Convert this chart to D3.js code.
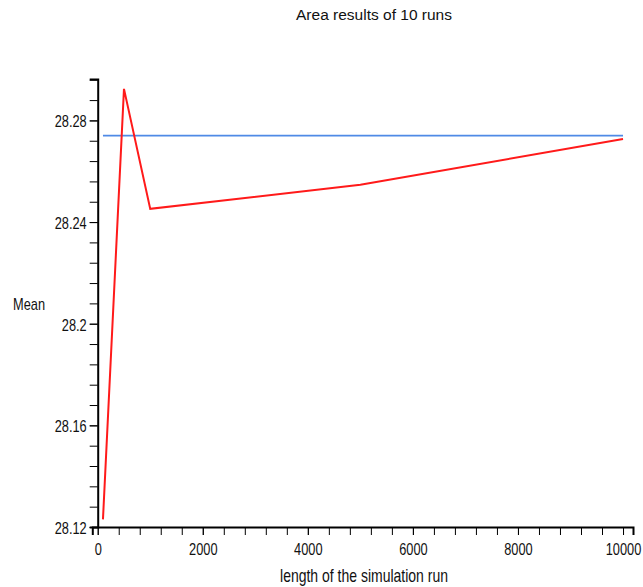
<!DOCTYPE html>
<html>
<head>
<meta charset="utf-8">
<script src="https://cdn.jsdelivr.net/npm/d3@7"></script>
<style>
  body { margin: 0; background: #fff; }
  text { font-family: "Liberation Sans", Arial, sans-serif; fill: #111; }
  .axis text { font-size: 16px; }
  .axis path, .axis line { stroke: #000; }
</style>
</head>
<body>
<div id="chart"></div>
<script>
// Chart data
const runLengths = [100, 500, 1000, 5000, 10000];
const meanArea = [28.123, 28.2924, 28.2452, 28.2547, 28.2727];
const refRange = [100, 10000];
const refValue = 28.274;

const xTicks = [0, 2000, 4000, 6000, 8000, 10000];
const yTicks = [28.12, 28.16, 28.2, 28.24, 28.28];

const width = 643, height = 587;
const squeeze = 0.8;   // the original font is a tall, narrow one

const svg = d3.select("#chart")
    .append("svg")
    .attr("width", width)
    .attr("height", height);

// scales -- the axes run a little past the data on the left / right / top
const xScale = d3.scaleLinear()
    .domain([-103, 10190])
    .range([92.3, 633]);

const yScale = d3.scaleLinear()
    .domain([28.12, 28.2963])
    .range([527, 79]);

// minor ticks
const xMinor = d3.range(0, 10001, 400);
const yMinor = d3.range(0, 23).map(i => 28.12 + i * 0.008);

svg.append("g")
    .attr("class", "axis")
    .attr("transform", `translate(0, ${yScale(28.12)})`)
    .call(d3.axisBottom(xScale).tickValues(xMinor).tickSize(8).tickFormat(""))
    .select(".domain").attr("stroke-width", 2);

svg.append("g")
    .attr("class", "axis")
    .attr("transform", `translate(0, ${yScale(28.12)})`)
    .call(d3.axisBottom(xScale).tickValues(xTicks).tickSize(8).tickFormat(d3.format("d")))
    .call(g => g.select(".domain").remove())
    .selectAll("text")
    .attr("dy", "17px")
    .attr("transform", `scale(${squeeze},1)`);

svg.append("g")
    .attr("class", "axis")
    .attr("transform", `translate(${xScale(0)}, 0)`)
    .call(d3.axisLeft(yScale).tickValues(yMinor).tickSize(8).tickFormat(""))
    .select(".domain").attr("stroke-width", 2);

svg.append("g")
    .attr("class", "axis")
    .attr("transform", `translate(${xScale(0)}, 0)`)
    .call(d3.axisLeft(yScale).tickValues(yTicks).tickSize(8)
        .tickFormat(d => d3.format("")(+d.toFixed(2))))
    .call(g => g.select(".domain").remove())
    .selectAll("text")
    .attr("x", -11 / squeeze)
    .attr("dy", "0.4em")
    .attr("transform", `scale(${squeeze},1)`);

// reference line
svg.append("line")
    .attr("x1", xScale(refRange[0]))
    .attr("x2", xScale(refRange[1]))
    .attr("y1", yScale(refValue))
    .attr("y2", yScale(refValue))
    .attr("stroke", "#4f8ae6")
    .attr("stroke-width", 1.6);

// mean line
const meanLine = d3.line()
    .x((d, i) => xScale(runLengths[i]))
    .y(d => yScale(d));

svg.append("path")
    .datum(meanArea)
    .attr("fill", "none")
    .attr("stroke", "#ff1a1a")
    .attr("stroke-width", 2)
    .attr("d", meanLine);

// titles
svg.append("text")
    .attr("transform", "translate(374, 19.5)")
    .attr("text-anchor", "middle")
    .style("font-size", "15.5px")
    .text("Area results of 10 runs");

svg.append("text")
    .attr("transform", "translate(364, 581.5) scale(0.8,1)")
    .attr("text-anchor", "middle")
    .style("font-size", "17.5px")
    .text("length of the simulation run");

svg.append("text")
    .attr("transform", `translate(29, 309.5) scale(${squeeze},1)`)
    .attr("text-anchor", "middle")
    .style("font-size", "16px")
    .text("Mean");
</script>
</body>
</html>
